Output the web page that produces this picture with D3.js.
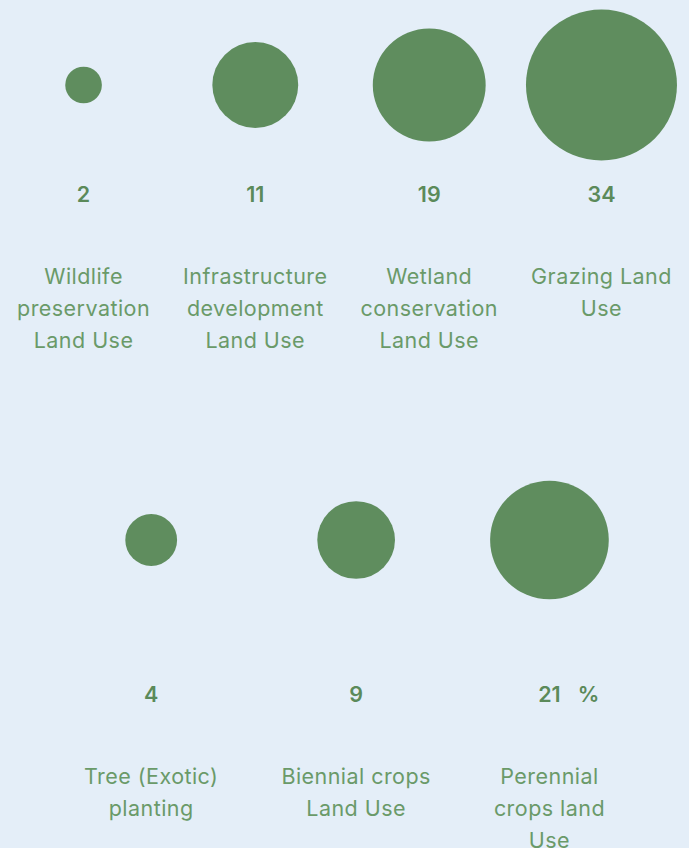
<!DOCTYPE html>
<html>
<head>
<meta charset="utf-8">
<script src="https://cdn.jsdelivr.net/npm/d3@7"></script>
<style>
  html, body { margin: 0; padding: 0; background: #e4eef8; }
  svg { display: block; }
</style>
</head>
<body>
<svg id="chart"></svg>
<script>
// Land-use shares, in percent
const categories = [
  "Wildlife preservation Land Use",
  "Infrastructure development Land Use",
  "Wetland conservation Land Use",
  "Grazing Land Use",
  "Tree (Exotic) planting",
  "Biennial crops Land Use",
  "Perennial crops land Use"
];
const labelLines = [
  ["Wildlife", "preservation", "Land Use"],
  ["Infrastructure", "development", "Land Use"],
  ["Wetland", "conservation", "Land Use"],
  ["Grazing Land", "Use"],
  ["Tree (Exotic)", "planting"],
  ["Biennial crops", "Land Use"],
  ["Perennial", "crops land", "Use"]
];
const values = [2, 11, 19, 34, 4, 9, 21];
const unit = "%";
const itemsPerRow = [4, 3];

const W = 689, H = 848;
const fontFamily = "Inter, 'Open Sans', sans-serif";
const fontSize = 21.5;
const letterSpacing = 0.45;
const circleColor = "#5f8d5e";
const valueColor = "#5b8a5a";
const labelColor = "#6a9a69";

// Row geometry
const rowPitch = 500;
const circleOffset = [85, 40];   // circle centre below each row's top
const valueBaseline = 202;       // value text baseline below row top
const labelBaseline = 284;       // first label line baseline below row top
const lineHeight = 32;
const rowGaps = [23, 53];
const textPad = 10;              // breathing room around label text

const svg = d3.select("#chart").attr("width", W).attr("height", H);

const r = d3.scaleSqrt().domain([0, d3.max(values)]).range([0, 75.5]);

// Measure label widths so each item box fits its circle and text
const measure = svg.append("text")
  .attr("font-family", fontFamily).attr("font-size", fontSize)
  .attr("letter-spacing", letterSpacing)
  .style("visibility", "hidden");
function textWidth(s) {
  measure.text(s);
  return measure.node().getComputedTextLength();
}

const items = categories.map((c, i) => ({
  category: c,
  lines: labelLines[i],
  value: values[i],
  width: Math.max(2 * r(values[i]), d3.max(labelLines[i], textWidth) + textPad)
}));
measure.remove();

// Split into rows and position each row centred
let start = 0;
itemsPerRow.forEach((n, row) => {
  const rowItems = items.slice(start, start + n);
  start += n;
  const gap = rowGaps[row];
  const total = d3.sum(rowItems, d => d.width) + gap * (n - 1);
  let x = (W - total) / 2;
  rowItems.forEach(d => {
    d.cx = x + d.width / 2;
    d.row = row;
    x += d.width + gap;
  });
});

const g = svg.append("g");
const item = g.selectAll("g.item").data(items).join("g")
  .attr("class", "item")
  .attr("transform", d => `translate(${d.cx},${d.row * rowPitch})`);

item.append("circle")
  .attr("cx", 0)
  .attr("cy", d => circleOffset[d.row])
  .attr("r", d => r(d.value))
  .attr("fill", circleColor);

item.append("text")
  .attr("class", "value")
  .attr("x", 0)
  .attr("y", valueBaseline)
  .attr("text-anchor", "middle")
  .attr("font-family", fontFamily)
  .attr("font-size", fontSize)
  .attr("font-weight", 600)
  .attr("fill", valueColor)
  .text(d => d.value);

item.append("text")
  .attr("class", "label")
  .attr("text-anchor", "middle")
  .attr("font-family", fontFamily)
  .attr("font-size", fontSize)
  .attr("letter-spacing", letterSpacing)
  .attr("fill", labelColor)
  .selectAll("tspan")
  .data(d => d.lines)
  .join("tspan")
  .attr("x", 0)
  .attr("y", (s, i) => labelBaseline + i * lineHeight)
  .text(s => s);

// Unit marker after the last value
const lastItem = item.filter((d, i) => i === items.length - 1);
const lastValue = lastItem.select("text.value");
const vw = lastValue.node().getComputedTextLength();
lastItem.append("text")
  .attr("x", vw / 2 + 17)
  .attr("y", valueBaseline)
  .attr("font-family", fontFamily)
  .attr("font-size", fontSize)
  .attr("font-weight", 600)
  .attr("fill", valueColor)
  .text(unit);
</script>
</body>
</html>
